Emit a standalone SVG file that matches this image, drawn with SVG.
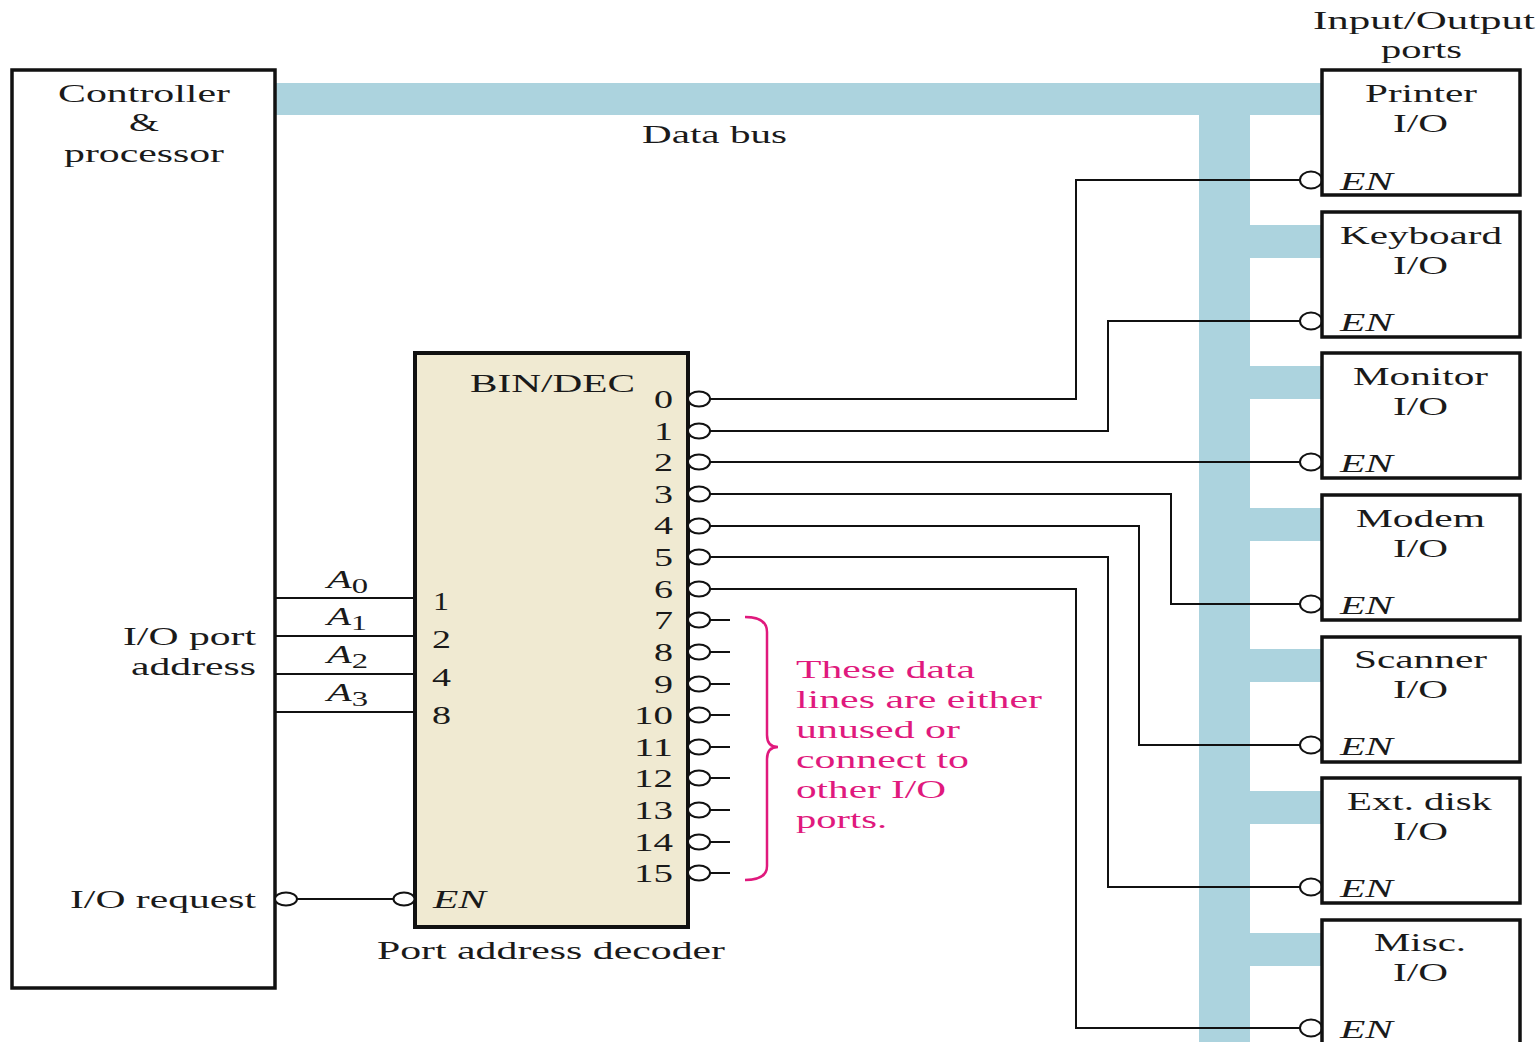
<svg xmlns="http://www.w3.org/2000/svg" width="1536" height="1042" viewBox="0 0 1536 1042">
<style>
text{font-family:"Liberation Serif","Times New Roman",serif;font-size:26px;fill:#1a1a1a}
.it{font-style:italic}
.pk{fill:#e0197d;font-size:25px}
.box{fill:#fff;stroke:#111;stroke-width:3.5}
.dec{fill:#f0ead2;stroke:#111;stroke-width:4}
.w{fill:none;stroke:#111;stroke-width:2}
.bub{fill:#fff;stroke:#111;stroke-width:2}
.bus{fill:#acd3de}
.sub{font-size:21px;font-style:normal}
</style>
<rect width="1536" height="1042" fill="#fff"/>

<g id="data-bus">
<rect class="bus" x="275" y="83" width="1047" height="32"/>
<rect class="bus" x="1199" y="83" width="51" height="959"/>
<rect class="bus" x="1250" y="225" width="72" height="33"/>
<rect class="bus" x="1250" y="366" width="72" height="33"/>
<rect class="bus" x="1250" y="508" width="72" height="33"/>
<rect class="bus" x="1250" y="649" width="72" height="33"/>
<rect class="bus" x="1250" y="791" width="72" height="33"/>
<rect class="bus" x="1250" y="933" width="72" height="33"/>
<text x="642" y="143" textLength="145" lengthAdjust="spacingAndGlyphs">Data bus</text>
</g>

<g id="controller">
<rect class="box" x="12" y="70" width="263" height="918"/>
<text x="58" y="102" textLength="172" lengthAdjust="spacingAndGlyphs">Controller</text>
<text x="129" y="131" textLength="30" lengthAdjust="spacingAndGlyphs">&amp;</text>
<text x="64" y="162" textLength="160" lengthAdjust="spacingAndGlyphs">processor</text>
<text x="123" y="645" textLength="133" lengthAdjust="spacingAndGlyphs">I/O port</text>
<text x="131" y="675" textLength="125" lengthAdjust="spacingAndGlyphs">address</text>
<text x="70" y="908" textLength="186" lengthAdjust="spacingAndGlyphs">I/O request</text>
</g>

<g id="decoder">
<rect class="dec" x="415" y="353" width="273" height="574"/>
<text x="470" y="392" textLength="165" lengthAdjust="spacingAndGlyphs">BIN/DEC</text>
<text x="433" y="610" textLength="16" lengthAdjust="spacingAndGlyphs">1</text>
<text x="432" y="648" textLength="19" lengthAdjust="spacingAndGlyphs">2</text>
<text x="432" y="686" textLength="19" lengthAdjust="spacingAndGlyphs">4</text>
<text x="432" y="724" textLength="19" lengthAdjust="spacingAndGlyphs">8</text>
<text class="it" x="433" y="908" textLength="53" lengthAdjust="spacingAndGlyphs">EN</text>
<text x="654" y="408" textLength="19" lengthAdjust="spacingAndGlyphs">0</text>
<text x="654" y="440" textLength="19" lengthAdjust="spacingAndGlyphs">1</text>
<text x="654" y="471" textLength="19" lengthAdjust="spacingAndGlyphs">2</text>
<text x="654" y="503" textLength="19" lengthAdjust="spacingAndGlyphs">3</text>
<text x="654" y="534" textLength="19" lengthAdjust="spacingAndGlyphs">4</text>
<text x="654" y="566" textLength="19" lengthAdjust="spacingAndGlyphs">5</text>
<text x="654" y="598" textLength="19" lengthAdjust="spacingAndGlyphs">6</text>
<text x="654" y="629" textLength="19" lengthAdjust="spacingAndGlyphs">7</text>
<text x="654" y="661" textLength="19" lengthAdjust="spacingAndGlyphs">8</text>
<text x="654" y="693" textLength="19" lengthAdjust="spacingAndGlyphs">9</text>
<text x="634" y="724" textLength="39" lengthAdjust="spacingAndGlyphs">10</text>
<text x="634" y="756" textLength="39" lengthAdjust="spacingAndGlyphs">11</text>
<text x="634" y="787" textLength="39" lengthAdjust="spacingAndGlyphs">12</text>
<text x="634" y="819" textLength="39" lengthAdjust="spacingAndGlyphs">13</text>
<text x="634" y="851" textLength="39" lengthAdjust="spacingAndGlyphs">14</text>
<text x="634" y="882" textLength="39" lengthAdjust="spacingAndGlyphs">15</text>
<text x="377" y="959" textLength="348" lengthAdjust="spacingAndGlyphs">Port address decoder</text>
</g>

<g id="connectors">
<line class="w" x1="275" y1="598" x2="415" y2="598"/>
<line class="w" x1="275" y1="636" x2="415" y2="636"/>
<line class="w" x1="275" y1="674" x2="415" y2="674"/>
<line class="w" x1="275" y1="712" x2="415" y2="712"/>
<text class="it" x="327" y="588" textLength="41" lengthAdjust="spacingAndGlyphs">A<tspan class="sub" dy="5">0</tspan></text>
<text class="it" x="327" y="625" textLength="40" lengthAdjust="spacingAndGlyphs">A<tspan class="sub" dy="5">1</tspan></text>
<text class="it" x="327" y="663" textLength="41" lengthAdjust="spacingAndGlyphs">A<tspan class="sub" dy="5">2</tspan></text>
<text class="it" x="327" y="701" textLength="41" lengthAdjust="spacingAndGlyphs">A<tspan class="sub" dy="5">3</tspan></text>
<line class="w" x1="297" y1="899" x2="394" y2="899"/>
<ellipse class="bub" cx="286" cy="899" rx="11" ry="6.5"/>
<ellipse class="bub" cx="404" cy="899" rx="10.5" ry="6.5"/>
<polyline class="w" points="710,399 1076,399 1076,180 1300,180"/>
<polyline class="w" points="710,431 1108,431 1108,321 1300,321"/>
<polyline class="w" points="710,462 1300,462"/>
<polyline class="w" points="710,494 1171,494 1171,604 1300,604"/>
<polyline class="w" points="710,526 1139,526 1139,745 1300,745"/>
<polyline class="w" points="710,557 1108,557 1108,887 1300,887"/>
<polyline class="w" points="710,589 1076,589 1076,1028 1300,1028"/>
<line class="w" x1="710" y1="620" x2="730" y2="620"/>
<line class="w" x1="710" y1="652" x2="730" y2="652"/>
<line class="w" x1="710" y1="684" x2="730" y2="684"/>
<line class="w" x1="710" y1="715" x2="730" y2="715"/>
<line class="w" x1="710" y1="747" x2="730" y2="747"/>
<line class="w" x1="710" y1="778" x2="730" y2="778"/>
<line class="w" x1="710" y1="810" x2="730" y2="810"/>
<line class="w" x1="710" y1="842" x2="730" y2="842"/>
<line class="w" x1="710" y1="873" x2="730" y2="873"/>
<ellipse class="bub" cx="699" cy="399" rx="11" ry="7.5"/>
<ellipse class="bub" cx="699" cy="431" rx="11" ry="7.5"/>
<ellipse class="bub" cx="699" cy="462" rx="11" ry="7.5"/>
<ellipse class="bub" cx="699" cy="494" rx="11" ry="7.5"/>
<ellipse class="bub" cx="699" cy="526" rx="11" ry="7.5"/>
<ellipse class="bub" cx="699" cy="557" rx="11" ry="7.5"/>
<ellipse class="bub" cx="699" cy="589" rx="11" ry="7.5"/>
<ellipse class="bub" cx="699" cy="620" rx="11" ry="7.5"/>
<ellipse class="bub" cx="699" cy="652" rx="11" ry="7.5"/>
<ellipse class="bub" cx="699" cy="684" rx="11" ry="7.5"/>
<ellipse class="bub" cx="699" cy="715" rx="11" ry="7.5"/>
<ellipse class="bub" cx="699" cy="747" rx="11" ry="7.5"/>
<ellipse class="bub" cx="699" cy="778" rx="11" ry="7.5"/>
<ellipse class="bub" cx="699" cy="810" rx="11" ry="7.5"/>
<ellipse class="bub" cx="699" cy="842" rx="11" ry="7.5"/>
<ellipse class="bub" cx="699" cy="873" rx="11" ry="7.5"/>
<ellipse class="bub" cx="1311" cy="180" rx="11" ry="8.5"/>
<ellipse class="bub" cx="1311" cy="321" rx="11" ry="8.5"/>
<ellipse class="bub" cx="1311" cy="462" rx="11" ry="8.5"/>
<ellipse class="bub" cx="1311" cy="604" rx="11" ry="8.5"/>
<ellipse class="bub" cx="1311" cy="745" rx="11" ry="8.5"/>
<ellipse class="bub" cx="1311" cy="887" rx="11" ry="8.5"/>
<ellipse class="bub" cx="1311" cy="1028" rx="11" ry="8.5"/>
</g>

<g id="note">
<path d="M745,617 Q767,617 767,632 L767,735 Q767,747 778,747 Q767,747 767,759 L767,866 Q767,880 745,880" fill="none" stroke="#e0197d" stroke-width="2.5"/>
<text class="pk" x="796" y="678" textLength="179" lengthAdjust="spacingAndGlyphs">These data</text>
<text class="pk" x="796" y="708" textLength="246" lengthAdjust="spacingAndGlyphs">lines are either</text>
<text class="pk" x="796" y="738" textLength="164" lengthAdjust="spacingAndGlyphs">unused or</text>
<text class="pk" x="796" y="768" textLength="173" lengthAdjust="spacingAndGlyphs">connect to</text>
<text class="pk" x="796" y="798" textLength="150" lengthAdjust="spacingAndGlyphs">other I/O</text>
<text class="pk" x="796" y="828" textLength="91" lengthAdjust="spacingAndGlyphs">ports.</text>
</g>

<g id="io-title">
<text x="1313" y="29" textLength="222" lengthAdjust="spacingAndGlyphs">Input/Output</text>
<text x="1381" y="58" textLength="81" lengthAdjust="spacingAndGlyphs">ports</text>
</g>

<g id="printer-io">
<rect class="box" x="1322" y="70" width="198" height="125"/>
<text x="1365" y="102" textLength="112" lengthAdjust="spacingAndGlyphs">Printer</text>
<text x="1393" y="132" textLength="55" lengthAdjust="spacingAndGlyphs">I/O</text>
<text class="it" x="1340" y="190" textLength="53" lengthAdjust="spacingAndGlyphs">EN</text>
</g>
<g id="keyboard-io">
<rect class="box" x="1322" y="212" width="198" height="125"/>
<text x="1340" y="244" textLength="162" lengthAdjust="spacingAndGlyphs">Keyboard</text>
<text x="1393" y="274" textLength="55" lengthAdjust="spacingAndGlyphs">I/O</text>
<text class="it" x="1340" y="331" textLength="53" lengthAdjust="spacingAndGlyphs">EN</text>
</g>
<g id="monitor-io">
<rect class="box" x="1322" y="353" width="198" height="125"/>
<text x="1353" y="385" textLength="135" lengthAdjust="spacingAndGlyphs">Monitor</text>
<text x="1393" y="415" textLength="55" lengthAdjust="spacingAndGlyphs">I/O</text>
<text class="it" x="1340" y="472" textLength="53" lengthAdjust="spacingAndGlyphs">EN</text>
</g>
<g id="modem-io">
<rect class="box" x="1322" y="495" width="198" height="125"/>
<text x="1356" y="527" textLength="129" lengthAdjust="spacingAndGlyphs">Modem</text>
<text x="1393" y="557" textLength="55" lengthAdjust="spacingAndGlyphs">I/O</text>
<text class="it" x="1340" y="614" textLength="53" lengthAdjust="spacingAndGlyphs">EN</text>
</g>
<g id="scanner-io">
<rect class="box" x="1322" y="637" width="198" height="125"/>
<text x="1354" y="668" textLength="133" lengthAdjust="spacingAndGlyphs">Scanner</text>
<text x="1393" y="698" textLength="55" lengthAdjust="spacingAndGlyphs">I/O</text>
<text class="it" x="1340" y="755" textLength="53" lengthAdjust="spacingAndGlyphs">EN</text>
</g>
<g id="extdisk-io">
<rect class="box" x="1322" y="778" width="198" height="125"/>
<text x="1347" y="810" textLength="145" lengthAdjust="spacingAndGlyphs">Ext. disk</text>
<text x="1393" y="840" textLength="55" lengthAdjust="spacingAndGlyphs">I/O</text>
<text class="it" x="1340" y="897" textLength="53" lengthAdjust="spacingAndGlyphs">EN</text>
</g>
<g id="misc-io">
<rect class="box" x="1322" y="920" width="198" height="126"/>
<text x="1374" y="951" textLength="92" lengthAdjust="spacingAndGlyphs">Misc.</text>
<text x="1393" y="981" textLength="55" lengthAdjust="spacingAndGlyphs">I/O</text>
<text class="it" x="1340" y="1038" textLength="53" lengthAdjust="spacingAndGlyphs">EN</text>
</g>
</svg>
